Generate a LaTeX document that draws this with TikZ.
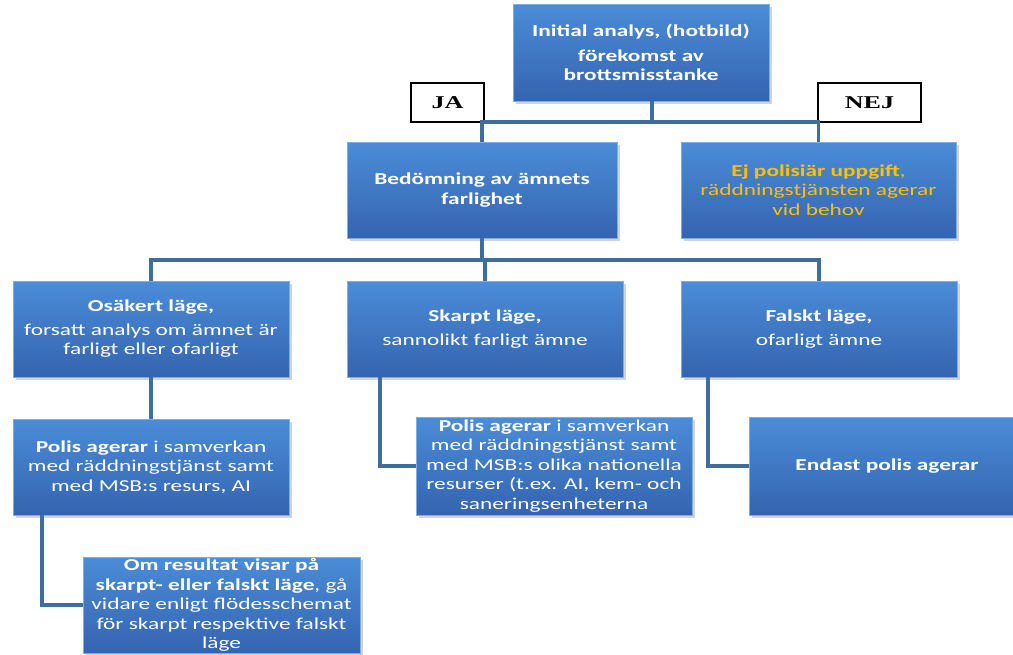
\documentclass[tikz,border=0pt]{standalone}
\usepackage{fontspec}
\setmainfont{Carlito}[FakeStretch=1.4]
\newfontfamily\jaserif{Liberation Serif}[FakeStretch=1.45]
\usetikzlibrary{shadows}
\definecolor{boxtop}{HTML}{4B8CD8}
\definecolor{boxbot}{HTML}{3464B0}
\definecolor{boxline}{HTML}{7DAEE8}
\definecolor{connc}{HTML}{3F6E9E}
\definecolor{yel}{HTML}{FFC000}
\tikzset{
  box/.style={rectangle, draw=boxline, line width=0.6pt, top color=boxtop, bottom color=boxbot,
    text=white, align=center, inner sep=0pt,
    font=\fontsize{12.5pt}{14.6pt}\selectfont,
    drop shadow={opacity=0.35, shadow xshift=2pt, shadow yshift=-2pt}},
  lbl/.style={rectangle, draw=black, line width=0.8pt, fill=white, inner sep=0pt,
    font=\jaserif\bfseries\fontsize{13.5pt}{15pt}\selectfont},
  conn/.style={draw=connc, line width=2.4pt}
}
\begin{document}
\begin{tikzpicture}[x=0.75pt,y=-0.75pt]
\useasboundingbox (0,0) rectangle (1013,654);
% top
\node[box, minimum width=192pt, minimum height=72.75pt] (top) at (641,52.5)
  {\textbf{Initial analys, (hotbild)}\\[4pt]\textbf{förekomst av}\\\textbf{brottsmisstanke}};
\node[lbl, minimum width=54.75pt, minimum height=29.25pt] (ja) at (447.5,102.5) {JA\hspace{6pt}};
\node[lbl, minimum width=77.25pt, minimum height=29.25pt] (nej) at (869.5,102.5) {NEJ\hspace{14pt}};
% level 2
\node[box, minimum width=202.5pt, minimum height=72pt] (bed) at (482,190)
  {\textbf{Bedömning av ämnets}\\\textbf{farlighet}};
\node[box, minimum width=206.25pt, minimum height=72pt, text=yel] (ej) at (818.5,190)
  {\textbf{Ej polisiär uppgift},\\räddningstjänsten agerar\\vid behov};
% level 3
\node[box, minimum width=207pt, minimum height=72pt] (osak) at (151,329)
  {\textbf{Osäkert läge,}\\[3pt]forsatt analys om ämnet är\\farligt eller ofarligt};
\node[box, minimum width=207pt, minimum height=72pt] (skarpt) at (485,329)
  {\textbf{Skarpt läge,}\\[3pt]sannolikt farligt ämne};
\node[box, minimum width=207pt, minimum height=72pt] (falskt) at (819,329)
  {\textbf{Falskt läge,}\\[3pt]ofarligt ämne};
% level 4
\node[box, minimum width=207pt, minimum height=72pt] (polis1) at (151,467)
  {\textbf{Polis agerar} i samverkan\\med räddningstjänst samt\\med MSB:s resurs, AI};
\node[box, minimum width=207pt, minimum height=73.5pt] (polis2) at (554,466)
  {\textbf{Polis agerar} i samverkan\\med räddningstjänst samt\\med MSB:s olika nationella\\resurser (t.ex. AI, kem- och\\saneringsenheterna};
\node[box, minimum width=207pt, minimum height=73.5pt] (endast) at (887,466)
  {\textbf{Endast polis agerar}};
\node[box, minimum width=207.75pt, minimum height=72pt] (om) at (221.5,605)
  {\textbf{Om resultat visar på}\\\textbf{skarpt- eller falskt läge}, gå\\vidare enligt flödesschemat\\för skarpt respektive falskt\\läge};
% connectors
\coordinate (j1) at (652,122);
\coordinate (j2) at (482,260);
\coordinate (c2) at (380,0);
\coordinate (c3) at (708,0);
\coordinate (c1) at (42,0);
\draw[conn] (top.south -| j1) -- (j1);
\draw[conn] (bed.north) -- (bed.north |- j1) -- (ej.north |- j1) -- (ej.north);
\draw[conn] (bed.south) -- (j2);
\draw[conn] (osak.north) -- (osak.north |- j2) -- (falskt.north |- j2) -- (falskt.north);
\draw[conn] (skarpt.north |- j2) -- (skarpt.north);
\draw[conn] (osak.south) -- (polis1.north);
\draw[conn] (skarpt.south -| c2) |- (polis2.west);
\draw[conn] (falskt.south -| c3) |- (endast.west);
\draw[conn] (polis1.south -| c1) |- (om.west);
\end{tikzpicture}
\end{document}
